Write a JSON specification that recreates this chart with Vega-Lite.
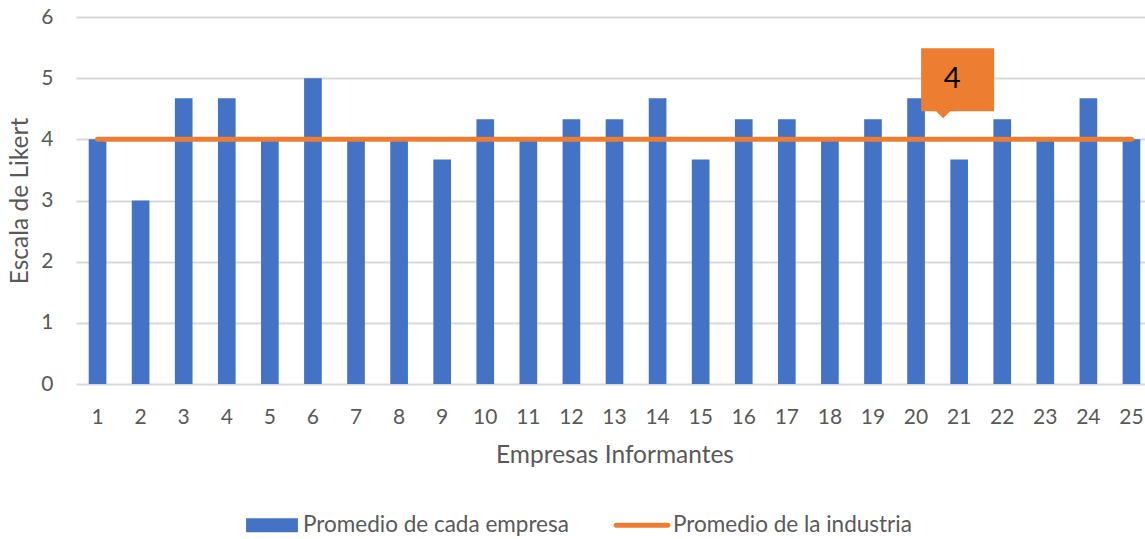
{
  "$schema": "https://vega.github.io/schema/vega-lite/v6.json",
  "width": 1069,
  "height": 367,
  "autosize": {"type": "none"},
  "padding": {"left": 76, "top": 17, "right": 0, "bottom": 155},
  "background": "white",
  "config": {
    "view": {"stroke": null},
    "font": "Lato",
    "axis": {
      "labelFont": "Lato",
      "titleFont": "Lato",
      "labelColor": "#595959",
      "titleColor": "#595959",
      "titleFontWeight": "normal",
      "domain": false,
      "ticks": false,
      "tickSize": 0
    },
    "legend": {
      "labelFont": "Lato",
      "labelColor": "#595959",
      "labelLimit": 500
    }
  },
  "data": {
    "values": [
      {"empresa": 1, "promedio": 4, "industria": 4},
      {"empresa": 2, "promedio": 3, "industria": 4},
      {"empresa": 3, "promedio": 4.67, "industria": 4},
      {"empresa": 4, "promedio": 4.67, "industria": 4},
      {"empresa": 5, "promedio": 4, "industria": 4},
      {"empresa": 6, "promedio": 5, "industria": 4},
      {"empresa": 7, "promedio": 4, "industria": 4},
      {"empresa": 8, "promedio": 4, "industria": 4},
      {"empresa": 9, "promedio": 3.67, "industria": 4},
      {"empresa": 10, "promedio": 4.33, "industria": 4},
      {"empresa": 11, "promedio": 4, "industria": 4},
      {"empresa": 12, "promedio": 4.33, "industria": 4},
      {"empresa": 13, "promedio": 4.33, "industria": 4},
      {"empresa": 14, "promedio": 4.67, "industria": 4},
      {"empresa": 15, "promedio": 3.67, "industria": 4},
      {"empresa": 16, "promedio": 4.33, "industria": 4},
      {"empresa": 17, "promedio": 4.33, "industria": 4},
      {"empresa": 18, "promedio": 4, "industria": 4},
      {"empresa": 19, "promedio": 4.33, "industria": 4},
      {"empresa": 20, "promedio": 4.67, "industria": 4},
      {"empresa": 21, "promedio": 3.67, "industria": 4},
      {"empresa": 22, "promedio": 4.33, "industria": 4},
      {"empresa": 23, "promedio": 4, "industria": 4},
      {"empresa": 24, "promedio": 4.67, "industria": 4},
      {"empresa": 25, "promedio": 4, "industria": 4}
    ]
  },
  "encoding": {
    "x": {
      "field": "empresa",
      "type": "ordinal",
      "sort": "ascending",
      "scale": {"range": [0, 1077], "paddingInner": 0.59, "paddingOuter": 0.295},
      "axis": {
        "title": "Empresas Informantes",
        "labelAngle": 0,
        "labelFontSize": 21,
        "labelPadding": 22,
        "titleFontSize": 24.5,
        "titlePadding": 16,
        "titleX": 538.5,
        "grid": false
      }
    }
  },
  "layer": [
    {
      "mark": {"type": "bar", "color": "#4472C4"},
      "encoding": {
        "y": {
          "field": "promedio",
          "type": "quantitative",
          "scale": {"domain": [0, 6], "nice": false},
          "axis": {
            "title": "Escala de Likert",
            "values": [0, 1, 2, 3, 4, 5, 6],
            "format": "d",
            "labelFontSize": 21,
            "labelPadding": 23,
            "titleFontSize": 24.5,
            "titleX": -56,
            "titleY": 183.5,
            "titleAngle": -90,
            "titleAlign": "center",
            "titleBaseline": "middle",
            "grid": true,
            "gridColor": "#D9D9D9",
            "gridWidth": 2
          }
        },
        "color": {
          "datum": "Promedio de cada empresa",
          "type": "nominal",
          "scale": {
            "domain": ["Promedio de cada empresa", "Promedio de la industria"],
            "range": ["#4472C4", "#ED7D31"]
          },
          "legend": {
            "title": null,
            "orient": "none",
            "direction": "horizontal",
            "legendX": 169,
            "legendY": 481,
            "padding": 0,
            "labelFontSize": 22.5,
            "labelOffset": 4,
            "columnPadding": 44,
            "symbolSize": 2916,
            "symbolStrokeWidth": 0,
            "symbolOpacity": 1,
            "encode": {
              "symbols": {
                "update": {
                  "shape": {"signal": "datum.value === 'Promedio de la industria' ? 'M-0.96,-0.09H0.96A0.09,0.09 0 0 1 0.96,0.09H-0.96A0.09,0.09 0 0 1 -0.96,-0.09Z' : 'M-0.96,-0.26H0.96V0.26H-0.96Z'"},
                  "fillOpacity": {"value": 1},
                  "strokeWidth": {"value": 0}
                }
              }
            }
          }
        }
      }
    },
    {
      "mark": {"type": "line", "color": "#ED7D31", "strokeWidth": 5, "strokeCap": "round"},
      "encoding": {
        "y": {"field": "industria", "type": "quantitative"},
        "color": {"datum": "Promedio de la industria", "type": "nominal"}
      }
    },
    {
      "transform": [{"filter": "datum.empresa == 21"}],
      "mark": {
        "type": "point",
        "filled": true,
        "opacity": 1,
        "size": 4,
        "color": "#ED7D31",
        "shape": "M-38,-91L35,-91L35,-28L-9,-28L-16,-21L-23,-28L-38,-28Z"
      },
      "encoding": {
        "y": {"field": "industria", "type": "quantitative"}
      }
    },
    {
      "transform": [{"filter": "datum.empresa == 21"}],
      "mark": {
        "type": "text",
        "font": "Lato",
        "fontSize": 29,
        "color": "#000000",
        "dx": -7,
        "dy": -60,
        "baseline": "middle",
        "align": "center"
      },
      "encoding": {
        "y": {"field": "industria", "type": "quantitative"},
        "text": {"field": "industria", "type": "quantitative"}
      }
    }
  ]
}
